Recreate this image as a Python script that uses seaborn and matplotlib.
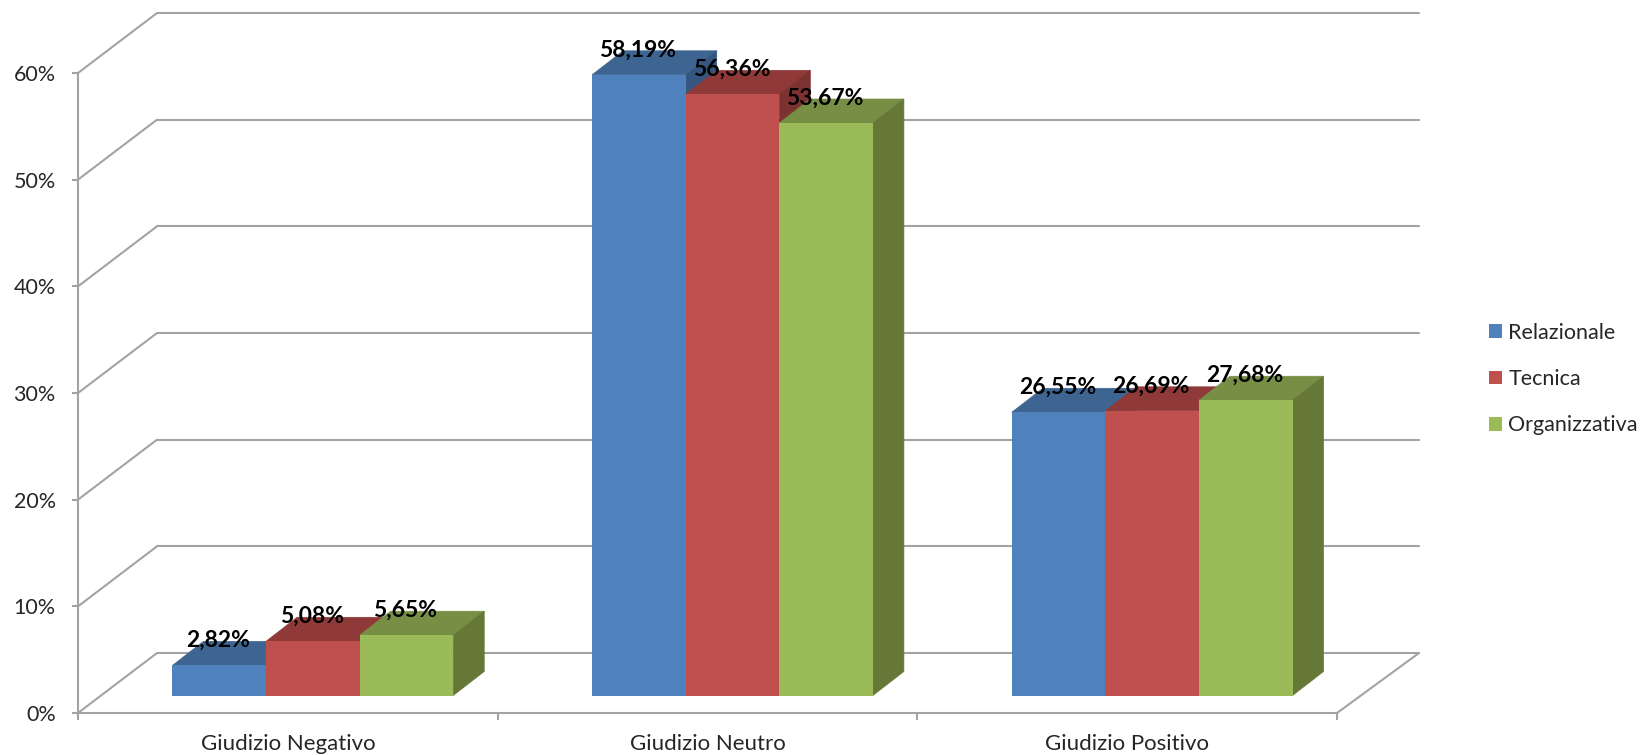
import matplotlib
matplotlib.use("Agg")
import matplotlib.pyplot as plt
import pandas as pd
import seaborn as sns
from matplotlib.patches import Polygon
from matplotlib.transforms import Affine2D

categories = ["Giudizio Negativo", "Giudizio Neutro", "Giudizio Positivo"]
relazionale = [2.82, 58.19, 26.55]
tecnica = [5.08, 56.36, 26.69]
organizzativa = [5.65, 53.67, 27.68]
y_ticks = [0, 10, 20, 30, 40, 50, 60]

series_names = ["Relazionale", "Tecnica", "Organizzativa"]
front_colors = ["#4F81BD", "#C0504D", "#9BBB59"]
top_colors = ["#3E6491", "#8F3A38", "#768F45"]
side_colors = ["#34567F", "#7B3230", "#667838"]
GRID = "#A3A3A3"
TEXT = "#262626"

W, H = 1644, 755
sns.set_theme(style="white")
plt.rcParams["font.family"] = ["Lato", "DejaVu Sans"]

df = pd.DataFrame({
    "categoria": categories * 3,
    "serie": [s for s in series_names for _ in categories],
    "valore": relazionale + tecnica + organizzativa,
})

fig = plt.figure(figsize=(W / 100, H / 100), dpi=100, facecolor="white")
# The axes frame is the front plane of the 3D box, in pixel fractions.
left, right, y0, y60 = 78, 1337, 713, 73
ax = fig.add_axes([left / W, 1 - y0 / H, (right - left) / W, (y0 - y60) / H])

sns.barplot(data=df, x="categoria", y="valore", hue="serie", order=categories,
            hue_order=series_names, palette=front_colors, width=0.669, gap=0,
            saturation=1, linewidth=0, ax=ax)
ax.set_xlim(-0.5, 2.5)
ax.set_ylim(0, 60)
ax.set_xlabel("")
ax.set_ylabel("")

# Pixel shifts of the back wall, the bar fronts and the bar depth.
bar_shift = Affine2D().translate(25, 17.5)
depth_x, depth_y = 31, 24
wall_x, wall_y = 79, 60
floor_x = 82
wall_tf = ax.transData + Affine2D().translate(wall_x, wall_y)
bar_tf = ax.transData + bar_shift
label_tf = bar_tf + Affine2D().translate(-1, 25)

# Wall gridlines: a receding stub from the axis, then a run along the back.
for v in y_ticks:
    ax.plot([-0.5, 2.5 + (floor_x - wall_x) / 420], [v, v], color=GRID, lw=1.5,
            clip_on=False, zorder=1, transform=wall_tf)
    p0 = ax.transData.transform((-0.5, v))
    ax.plot([p0[0], p0[0] + wall_x], [p0[1], p0[1] + wall_y], color=GRID, lw=1.5,
            clip_on=False, zorder=1, transform=None)
p1 = ax.transData.transform((2.5, 0))
ax.plot([p1[0], p1[0] + floor_x], [p1[1], p1[1] + wall_y], color=GRID, lw=1.5,
        clip_on=False, zorder=1, transform=None)

# Extrude every bar front into a top and a side face, left to right per group.
for s_idx, container in enumerate(ax.containers):
    for c_idx, bar in enumerate(container):
        order = 3 + s_idx * 3
        bar.set_transform(bar_tf)
        bar.set_clip_on(False)
        bar.set_zorder(order + 2)
        x0, w, h = bar.get_x(), bar.get_width(), bar.get_height()
        a = bar_tf.transform([(x0, 0), (x0 + w, 0), (x0 + w, h), (x0, h)])
        (xl, _), (xr, yb), (_, yt), _ = a
        top = [(xl, yt), (xr, yt), (xr + depth_x, yt + depth_y), (xl + depth_x, yt + depth_y)]
        side = [(xr, yb), (xr + depth_x, yb + depth_y), (xr + depth_x, yt + depth_y), (xr, yt)]
        ax.add_patch(Polygon(top, closed=True, fc=top_colors[s_idx], ec=top_colors[s_idx],
                             lw=0.5, transform=None, clip_on=False, zorder=order))
        ax.add_patch(Polygon(side, closed=True, fc=side_colors[s_idx], ec=side_colors[s_idx],
                             lw=0.5, transform=None, clip_on=False, zorder=order + 1))
        ax.text(x0 + w / 2, h, f"{h:.2f}%".replace(".", ","), transform=label_tf,
                ha="center", va="center", fontsize=16.5, fontweight="bold",
                color="black", zorder=30)

# Axis lines and ticks of the front plane.
sns.despine(ax=ax, top=True, right=True)
for name in ("left", "bottom"):
    ax.spines[name].set_color(GRID)
    ax.spines[name].set_linewidth(1.5)
    ax.spines[name].set_zorder(2)
ax.set_yticks(y_ticks)
ax.set_yticklabels([f"{v}%" for v in y_ticks])
ax.set_xticks([-0.5, 0.5, 1.5, 2.5], minor=False)
ax.set_xticklabels([""] * 4)
ax.tick_params(axis="y", left=True, length=4, width=1.5, color=GRID, pad=12,
               labelsize=15.5, labelcolor=TEXT)
ax.tick_params(axis="x", bottom=True, length=5, width=1.5, color=GRID)
for i, name in enumerate(categories):
    ax.annotate(name, xy=(i, 0), xycoords=ax.get_xaxis_transform(),
                xytext=(0, -31), textcoords="offset pixels", ha="center", va="center",
                fontsize=16, color=TEXT)

handles, labels = ax.get_legend_handles_labels()
ax.legend(handles, labels, loc="center left", frameon=False,
          bbox_to_anchor=(1489 / W, 1 - 379 / H), bbox_transform=fig.transFigure,
          fontsize=15.5, labelcolor=TEXT, handlelength=0.6, handleheight=0.6,
          handletextpad=0.3, labelspacing=1.23, borderpad=0, borderaxespad=0)

fig.savefig("out.png", dpi=100, facecolor="white")
